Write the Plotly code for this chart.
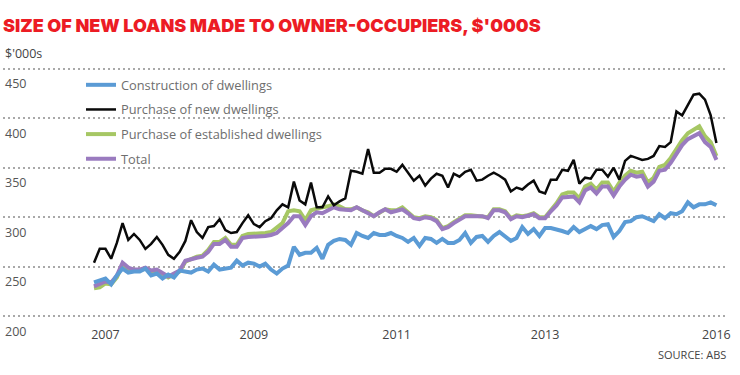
import plotly.graph_objects as go

# ---- data (monthly) ----
tick_labels = ["2007", "2009", "2011", "2013", "2016"]
tick_positions = [2, 28, 53, 79, 109]

construction = [
    234, 236, 238, 232, 241, 248, 244, 245, 245, 248, 241, 243, 238, 242, 239, 246, 245, 244, 247, 248,
    245, 252, 247, 248, 249, 256, 251, 254,
    253, 250, 253, 247, 243, 248, 251, 270, 262, 264, 264, 269, 258, 272, 276, 278, 277, 272, 284, 281,
    279, 284, 282, 282, 284, 281, 279,
    275, 279, 271, 279, 278, 274, 278, 274, 274, 277, 284, 274, 280, 281, 275, 281, 285, 281, 276, 279,
    290, 283, 288, 281, 289, 289, 288,
    286, 284, 290, 285, 288, 291, 288, 292, 293, 280, 286, 295, 296, 300, 301, 298, 296, 303, 299, 304,
    303, 306, 315, 310, 313, 313, 315, 312,
]
purchase_new = [
    254, 268, 268, 258, 274, 294, 277, 283, 277, 268, 273, 280, 272, 262, 258, 265, 276, 297, 285, 279,
    290, 291, 298, 287, 284, 285, 294, 302,
    293, 290, 296, 299, 307, 313, 310, 336, 317, 313, 335, 310, 310, 321, 312, 316, 319, 347, 346, 344,
    369, 345, 345, 349, 349, 346, 353,
    345, 337, 342, 332, 339, 344, 342, 330, 344, 341, 346, 348, 337, 338, 342, 345, 342, 338, 326, 330,
    328, 333, 337, 326, 324, 338, 338,
    348, 347, 358, 334, 340, 339, 348, 348, 341, 350, 338, 357, 362, 360, 358, 359, 362, 372, 371, 376,
    407, 403, 413, 424, 425, 419, 403, 375,
]
purchase_established = [
    228, 229, 233, 232, 239, 252, 247, 246, 246, 248, 245, 246, 243, 239, 242, 245, 255, 258, 260, 261,
    267, 275, 275, 279, 272, 272, 281, 283,
    283, 284, 284, 285, 290, 294, 306, 307, 306, 297, 307, 309, 310, 311, 313, 311, 308, 308, 310, 307,
    305, 301, 305, 308, 307, 307, 310,
    305, 300, 299, 301, 300, 297, 289, 291, 295, 299, 302, 302, 301, 301, 300, 308, 308, 306, 299, 302,
    301, 302, 304, 300, 300, 307, 314,
    323, 325, 325, 319, 331, 334, 328, 335, 335, 326, 335, 342, 347, 345, 346, 335, 340, 351, 353, 360,
    369, 378, 385, 389, 392, 382, 376, 362,
]
total = [
    230, 232, 235, 234, 241, 254, 249, 247, 247, 249, 246, 247, 244, 240, 243, 246, 256, 258, 259, 260,
    265, 273, 273, 277, 270, 270, 279, 280,
    280, 280, 281, 282, 284, 289, 294, 301, 301, 292, 301, 305, 304, 307, 310, 308, 307, 307, 310, 307,
    305, 301, 305, 308, 305, 306, 308,
    304, 299, 298, 300, 299, 296, 288, 290, 294, 298, 301, 301, 301, 301, 299, 307, 307, 305, 298, 301,
    300, 301, 303, 299, 299, 306, 312,
    320, 321, 321, 315, 327, 330, 324, 331, 331, 322, 331, 338, 343, 341, 342, 331, 336, 347, 348, 355,
    364, 373, 379, 382, 385, 376, 371, 358,
]
months = list(range(len(total)))
y_ticks = [200, 250, 300, 350, 400, 450]

# ---- styles ----
BLUE = "#5B9BD5"
BLACK = "#0a0a0a"
GREEN = "#A6C764"
PURPLE = "#9A7BBF"
FONT = "Open Sans, Lato, sans-serif"

fig = go.Figure()
# draw order: green, purple, blue, black ; legend order via legendrank
fig.add_trace(go.Scatter(x=months, y=purchase_established, mode="lines",
                         name="Purchase of established dwellings",
                         line=dict(color=GREEN, width=4), legendrank=3, legendgroup="c"))
fig.add_trace(go.Scatter(x=months, y=total, mode="lines", name="Total",
                         line=dict(color=PURPLE, width=4), legendrank=4, legendgroup="d"))
fig.add_trace(go.Scatter(x=months, y=construction, mode="lines", name="Construction of dwellings",
                         line=dict(color=BLUE, width=4), legendrank=1, legendgroup="a"))
fig.add_trace(go.Scatter(x=months, y=purchase_new, mode="lines", name="Purchase of new dwellings",
                         line=dict(color=BLACK, width=2.5), legendrank=2, legendgroup="b"))

annotations = []
for v in y_ticks:
    annotations.append(dict(x=0, xref="paper", y=v, yref="y", text=str(v), showarrow=False,
                            xanchor="left", yanchor="middle", yshift=-15,
                            font=dict(family=FONT, size=12.5, color="#555555")))
annotations.append(dict(x=0, xref="paper", y=1, yref="paper", text="$'000s", showarrow=False,
                        xanchor="left", yanchor="middle", yshift=14,
                        font=dict(family=FONT, size=12.5, color="#444444")))
annotations.append(dict(x=1, xref="paper", y=0, yref="paper", text="SOURCE: ABS", showarrow=False,
                        xanchor="right", yanchor="middle", yshift=-36,
                        font=dict(family=FONT, size=11, color="#444444")))

fig.update_layout(
    width=740, height=375,
    margin=dict(l=3, r=12, t=67, b=57),
    paper_bgcolor="white", plot_bgcolor="white",
    title=dict(text="SIZE OF NEW LOANS MADE TO OWNER-OCCUPIERS, $'000S",
               x=3 / 740, xref="container", xanchor="left",
               y=1 - 26 / 375, yref="container", yanchor="middle",
               font=dict(family="Inter, Lato, sans-serif", size=18, color="#EC1C24", weight=900)),
    showlegend=True,
    legend=dict(x=(81 - 3) / 725, xanchor="left", y=1 - (70 - 67) / 251, yanchor="top",
                bgcolor="rgba(0,0,0,0)", borderwidth=0, tracegroupgap=5, traceorder="grouped",
                font=dict(family=FONT, size=12.8, color="#6e6e6e")),
    xaxis=dict(range=[-15.94, 111.03], showgrid=False, zeroline=False, showline=False,
               tickmode="array", tickvals=tick_positions, ticktext=tick_labels,
               ticks="outside", ticklen=5, tickcolor="rgba(0,0,0,0)",
               tickfont=dict(family=FONT, size=12.5, color="#444444")),
    yaxis=dict(range=[198, 452], showgrid=True, gridcolor="#a9a9a9", gridwidth=1.5,
               griddash="2px,3px", tickmode="array", tickvals=y_ticks,
               showticklabels=False, zeroline=False, showline=False, ticks=""),
    shapes=[dict(type="rect", xref="paper", yref="paper", x0=(65 - 3) / 725, x1=(333 - 3) / 725,
                 y0=1 - (165 - 67) / 251, y1=1 - (71 - 67) / 251, fillcolor="white",
                 line=dict(width=0), layer="between")],
    annotations=annotations,
)

fig.write_html("out.html", config={"displayModeBar": False},
               post_script="document.body.style.margin='0';document.body.style.overflow='hidden';")
